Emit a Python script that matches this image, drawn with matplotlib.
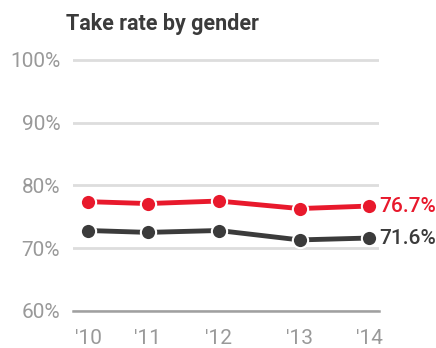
import matplotlib
matplotlib.use('Agg')
import matplotlib.pyplot as plt

# Data (x positions as plotted along the time axis)
years = [2010.0, 2010.85, 2011.86, 2013.01, 2014.0]
year_labels = ["'10", "'11", "'12", "'13", "'14"]
women = [77.4, 77.1, 77.5, 76.3, 76.7]
men = [72.8, 72.5, 72.8, 71.3, 71.6]
y_ticks = [60, 70, 80, 90, 100]
y_tick_labels = ['60%', '70%', '80%', '90%', '100%']

red = '#e8192c'
dark = '#3b3b3b'
gray = '#999999'

plt.rcParams['font.family'] = ['Roboto', 'DejaVu Sans']

fig = plt.figure(figsize=(4.36, 3.48), dpi=100)
ax = fig.add_axes([0.1667, 0.107, 0.869 - 0.1667, 0.8457 - 0.107])

for vals, col in [(men, dark), (women, red)]:
    ax.plot(years, vals, color=col, lw=3.5, marker='o', ms=11,
            markerfacecolor=col, markeredgecolor='white', markeredgewidth=1.5,
            solid_capstyle='butt', zorder=3, clip_on=False)

ax.text(years[-1] + 0.15, women[-1], f'{women[-1]}%', color=red,
        fontsize=15, fontweight='medium', va='center', ha='left')
ax.text(years[-1] + 0.15, men[-1], f'{men[-1]}%', color=dark,
        fontsize=15, fontweight='medium', va='center', ha='left')

ax.set_xlim(2009.78, 2014.14)
ax.set_ylim(60, 101)
ax.set_yticks(y_ticks)
ax.set_yticklabels(y_tick_labels)
ax.set_xticks(years)
ax.set_xticklabels(year_labels)
ax.tick_params(axis='both', length=0, labelsize=15, labelcolor=gray)
ax.tick_params(axis='y', pad=9)
ax.tick_params(axis='x', pad=13)

ax.grid(axis='y', color='#dddddd', lw=2)
ax.set_axisbelow(True)
for s in ['top', 'right', 'left']:
    ax.spines[s].set_visible(False)
ax.spines['bottom'].set_color('#a0a0a0')
ax.spines['bottom'].set_linewidth(1.8)

fig.text(66 / 436, 1 - 24 / 348, 'Take rate by gender', fontsize=15.5,
         fontweight='bold', color=dark, va='center', ha='left')

fig.savefig('out.png', dpi=100)
